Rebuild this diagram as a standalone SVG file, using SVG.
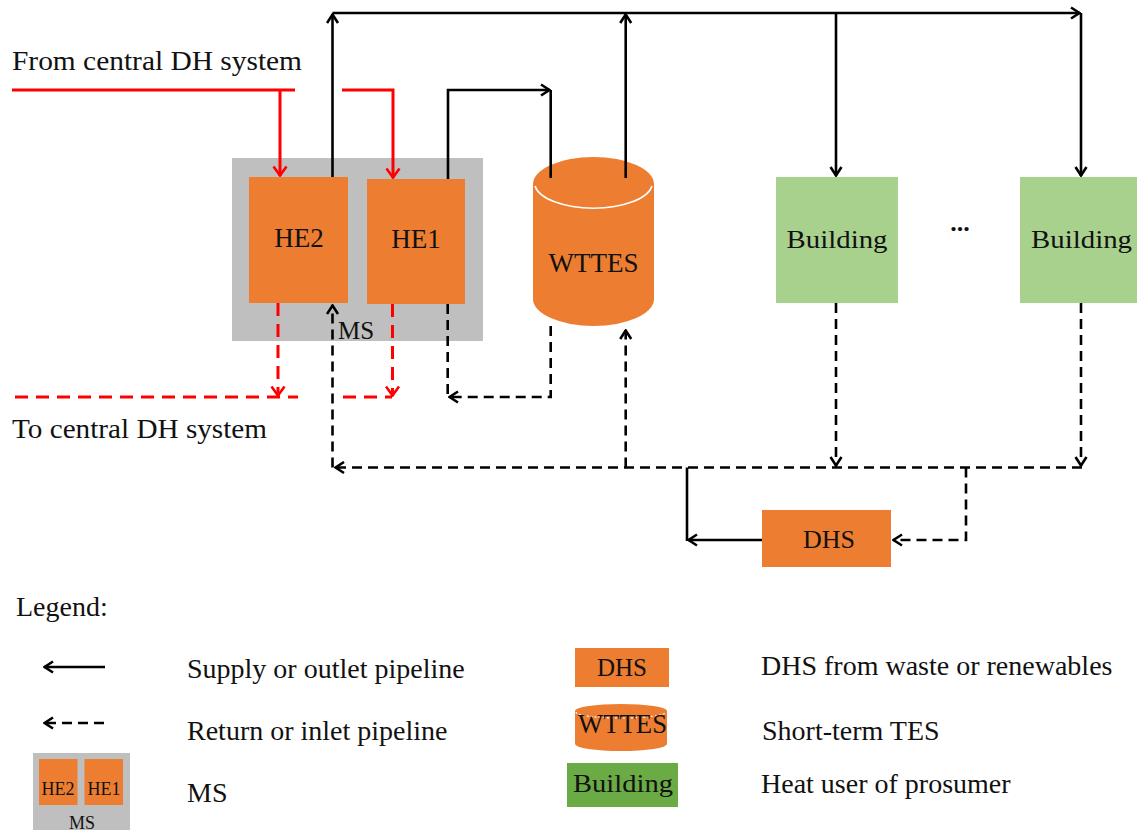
<svg xmlns="http://www.w3.org/2000/svg" width="1137" height="832" viewBox="0 0 1137 832">
  <style>
    text { font-family: "Liberation Serif", "Times New Roman", serif; fill: #111; }
    .lbl { font-size: 26px; }
    .leg { font-size: 28px; }
    .pipe { fill: none; stroke: #000; stroke-width: 2.6; }
    .ret { fill: none; stroke: #000; stroke-width: 2.6; stroke-dasharray: 10 6; }
    .red { fill: none; stroke: #ff0000; stroke-width: 3; }
    .redret { fill: none; stroke: #ff0000; stroke-width: 3; stroke-dasharray: 13 8; }
    .orange { fill: #ed7d31; }
    .grey { fill: #bfbfbf; }
    .green { fill: #a9d18e; }
    .dgreen { fill: #6aab45; }
  </style>
  <defs>
    <marker id="ah" viewBox="0 0 12 14" refX="11" refY="7" markerWidth="12" markerHeight="14" markerUnits="userSpaceOnUse" orient="auto">
      <path d="M2,1.5 L10.5,7 L2,12.5" fill="none" stroke="#000" stroke-width="2.6"/>
    </marker>
    <marker id="ahr" viewBox="0 0 12 16" refX="11" refY="8" markerWidth="12" markerHeight="16" markerUnits="userSpaceOnUse" orient="auto">
      <path d="M1.5,1.5 L10.5,8 L1.5,14.5" fill="none" stroke="#ff0000" stroke-width="2.6"/>
    </marker>
  </defs>

  <!-- free labels -->
  <text x="12" y="70" font-size="27" textLength="290" lengthAdjust="spacingAndGlyphs">From central DH system</text>
  <text x="12" y="438" font-size="27" textLength="255" lengthAdjust="spacingAndGlyphs">To central DH system</text>
  <text x="960" y="231" class="lbl" text-anchor="middle" font-weight="bold">...</text>

  <!-- substation with two heat exchangers -->
  <g id="ms">
    <rect x="232" y="158" width="251" height="183" class="grey"/>
    <text x="338" y="339" font-size="25">MS</text>
  </g>
  <g id="he2">
    <rect x="249" y="177" width="99" height="126" class="orange"/>
    <text x="299" y="247" font-size="27" text-anchor="middle">HE2</text>
  </g>
  <g id="he1">
    <rect x="367" y="179" width="98" height="125" class="orange"/>
    <text x="416" y="248" font-size="27" text-anchor="middle">HE1</text>
  </g>

  <!-- storage tank -->
  <g id="wttes">
    <path d="M533,184 V299 A60.5,27 0 0 0 654,299 V184 Z" class="orange"/>
    <ellipse cx="593.5" cy="184" rx="60.5" ry="27" class="orange"/>
    <path d="M535,186 A59,25.5 0 0 0 652,186" fill="none" stroke="#fff" stroke-width="1.6"/>
    <text x="593.5" y="272" font-size="27" text-anchor="middle">WTTES</text>
  </g>

  <!-- consumers -->
  <g id="building1">
    <rect x="776" y="177" width="122" height="126" class="green"/>
    <text x="837" y="248" class="lbl" text-anchor="middle" textLength="101" lengthAdjust="spacingAndGlyphs">Building</text>
  </g>
  <g id="building2">
    <rect x="1020" y="177" width="120" height="126" class="green"/>
    <text x="1031" y="248" class="lbl" textLength="101" lengthAdjust="spacingAndGlyphs">Building</text>
  </g>

  <!-- local heat source -->
  <g id="dhs">
    <rect x="762" y="510" width="129" height="57" class="orange"/>
    <text x="829" y="548" class="lbl" text-anchor="middle">DHS</text>
  </g>

  <!-- pipelines -->
  <g id="connectors">
    <!-- central network supply -->
    <path d="M12,90 H295" class="red"/>
    <path d="M280,90 V176" class="red" marker-end="url(#ahr)"/>
    <path d="M342,90 H393 V178" class="red" marker-end="url(#ahr)"/>
    <!-- central network return -->
    <path d="M15,397 H298" class="redret"/>
    <path d="M343,397 H392" class="redret"/>
    <path d="M278,303 V396" class="redret" marker-end="url(#ahr)"/>
    <path d="M392.5,304 V396" class="redret" marker-end="url(#ahr)"/>

    <!-- supply header -->
    <path d="M332.5,177 V14" class="pipe" marker-end="url(#ah)"/>
    <path d="M332.5,13 H1080" class="pipe" marker-end="url(#ah)"/>
    <path d="M625.7,178 V14" class="pipe" marker-end="url(#ah)"/>
    <path d="M836,13 V176" class="pipe" marker-end="url(#ah)"/>
    <path d="M1081,13 V176" class="pipe" marker-end="url(#ah)"/>
    <!-- HE1 charging the tank -->
    <path d="M448,179 V90 H550" class="pipe" marker-end="url(#ah)"/>
    <path d="M550.7,90 V178" class="pipe"/>

    <!-- return header -->
    <path d="M1082,467.5 H335" class="ret" marker-end="url(#ah)"/>
    <path d="M332.5,467.5 V305" class="ret" marker-end="url(#ah)"/>
    <path d="M625.7,467.5 V330" class="ret" marker-end="url(#ah)"/>
    <path d="M836,303 V466" class="ret" marker-end="url(#ah)"/>
    <path d="M1081,303 V466" class="ret" marker-end="url(#ah)"/>
    <!-- tank discharge back to HE1 -->
    <path d="M550.7,326 V397 H449" class="ret" marker-end="url(#ah)"/>
    <path d="M447.7,304 V397" class="ret"/>

    <!-- DHS loop -->
    <path d="M966,467.5 V540 H893" class="ret" marker-end="url(#ah)"/>
    <path d="M762,540 H688" class="pipe" marker-end="url(#ah)"/>
    <path d="M687,467.5 V541" class="pipe"/>
  </g>

  <!-- legend -->
  <g id="legend">
    <text x="16" y="616" class="leg">Legend:</text>

    <path d="M105,667 H44" class="pipe" marker-end="url(#ah)"/>
    <text x="187" y="678" class="leg">Supply or outlet pipeline</text>

    <path d="M104,723 H44" class="ret" stroke-dasharray="8 6" marker-end="url(#ah)"/>
    <text x="187" y="740" class="leg">Return or inlet pipeline</text>

    <rect x="33" y="753" width="97" height="77" class="grey"/>
    <rect x="39" y="759" width="38.5" height="46" class="orange"/>
    <rect x="84.5" y="759" width="38.5" height="46" class="orange"/>
    <text x="58" y="795" font-size="18" text-anchor="middle">HE2</text>
    <text x="104" y="795" font-size="18" text-anchor="middle">HE1</text>
    <text x="82" y="829" font-size="18" text-anchor="middle">MS</text>
    <text x="187" y="802" class="leg">MS</text>

    <rect x="575" y="648" width="94" height="39" class="orange"/>
    <text x="622" y="676" font-size="25" text-anchor="middle">DHS</text>
    <text x="761" y="675" class="leg">DHS from waste or renewables</text>

    <path d="M575,711 V744 A46,7 0 0 0 667,744 V711 Z" class="orange"/>
    <ellipse cx="621" cy="711" rx="46" ry="7" class="orange"/>
    <path d="M576,712 A45,6 0 0 0 666,712" fill="none" stroke="#fff" stroke-width="1.2" stroke-dasharray="2 2"/>
    <text x="622.5" y="733" font-size="27" text-anchor="middle" textLength="89" lengthAdjust="spacingAndGlyphs">WTTES</text>
    <text x="762" y="740" class="leg">Short-term TES</text>

    <rect x="567" y="763" width="111" height="44" class="dgreen"/>
    <text x="623" y="792" class="lbl" text-anchor="middle" textLength="100" lengthAdjust="spacingAndGlyphs">Building</text>
    <text x="761" y="793" class="leg">Heat user of prosumer</text>
  </g>
</svg>
